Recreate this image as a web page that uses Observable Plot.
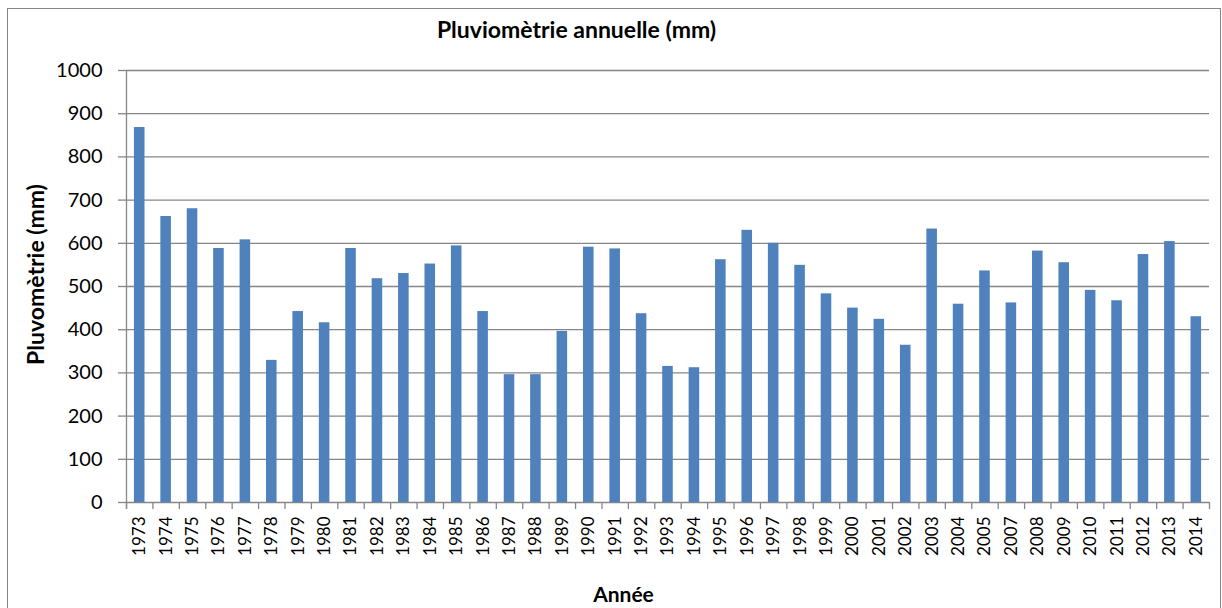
<!DOCTYPE html>
<html><head><meta charset="utf-8">
<script src="https://cdn.jsdelivr.net/npm/d3@7"></script>
<script src="https://cdn.jsdelivr.net/npm/@observablehq/plot@0.6"></script>
<style>
html,body{margin:0;padding:0;background:#fff;overflow:hidden}
#wrap{position:relative;width:1222px;height:608px}
#chart{position:absolute;left:0;top:0}
#border{position:absolute;left:7px;top:8px;width:1214px;height:640px;border:1.5px solid #868686;box-sizing:border-box;pointer-events:none}
</style></head><body>
<div id="wrap"><div id="chart"></div><div id="border"></div></div>
<script>
const years = ["1973","1974","1975","1976","1977","1978","1979","1980","1981","1982","1983","1984","1985","1986","1987","1988","1989","1990","1991","1992","1993","1994","1995","1996","1997","1998","1999","2000","2001","2002","2003","2004","2005","2007","2008","2009","2010","2011","2012","2013","2014"];
const rainfall = [868,662,680,588,608,329,442,416,588,518,530,552,594,442,296,296,396,591,587,437,315,312,562,630,600,549,483,450,424,364,633,459,536,462,582,555,491,467,574,604,430];
const yTicks = [0,100,200,300,400,500,600,700,800,900,1000];
const titleText = "Pluviomètrie annuelle (mm)";
const yTitle = "Pluvomètrie (mm)";
const xTitle = "Année";

const data = years.map((y, i) => ({year: y, value: rainfall[i]}));
const W = 1222, H = 608, mL = 126, mR = 13, mT = 70, mB = 106;
const step = (W - mL - mR) / years.length;
const frameCx = (mL + W - mR) / 2, frameCy = (mT + H - mB) / 2;
const grid = "#868686";
const font = "Lato, 'Open Sans', sans-serif";

const chart = Plot.plot({
  width: W, height: H,
  marginLeft: mL, marginRight: mR, marginTop: mT, marginBottom: mB,
  style: {fontFamily: font, background: "transparent", overflow: "visible", color: "#000"},
  x: {type: "band", domain: years, paddingInner: 0.6, paddingOuter: 0.3, round: false},
  y: {domain: [0, 1000]},
  marks: [
    Plot.gridY(yTicks, {stroke: grid, strokeOpacity: 1, strokeWidth: 1.3}),
    Plot.barY(data, {x: "year", y: "value", fill: "#4F81BD"}),
    Plot.axisY(yTicks, {tickSize: 8, tickPadding: 16, fontSize: 20, stroke: grid, fill: "#000", strokeWidth: 1.3, tickFormat: d => String(d), label: null}),
    Plot.axisX({tickSize: 0, tickRotate: -90, tickPadding: 14, fontSize: 17, fill: "#000", label: null}),
    Plot.ruleX(years, {x: d => d, y1: 0, y2: 0, insetBottom: -7, dx: -step / 2, stroke: grid, strokeWidth: 1.3}),
    Plot.ruleX(years.slice(-1), {x: d => d, y1: 0, y2: 0, insetBottom: -7, dx: step / 2, stroke: grid, strokeWidth: 1.3}),
    Plot.ruleX(years.slice(0, 1), {x: d => d, y1: 1000, y2: 0, insetBottom: -7, dx: -step / 2, stroke: grid, strokeWidth: 1.3}),
    Plot.text([titleText], {text: d => d, frameAnchor: "top", textAnchor: "middle", lineAnchor: "middle", dx: 576 - frameCx, dy: -40, fontSize: 23, fontWeight: "bold", fill: "#000"}),
    Plot.text([xTitle], {text: d => d, frameAnchor: "bottom", textAnchor: "middle", lineAnchor: "middle", dx: 623 - frameCx, dy: 93, fontSize: 21, fontWeight: "bold", fill: "#000"}),
    Plot.text([yTitle], {text: d => d, frameAnchor: "left", textAnchor: "middle", lineAnchor: "middle", rotate: -90, dx: 36 - mL, dy: 274 - frameCy, fontSize: 23, fontWeight: "bold", fill: "#000"})
  ]
});
document.getElementById("chart").appendChild(chart);
</script>
</body></html>
